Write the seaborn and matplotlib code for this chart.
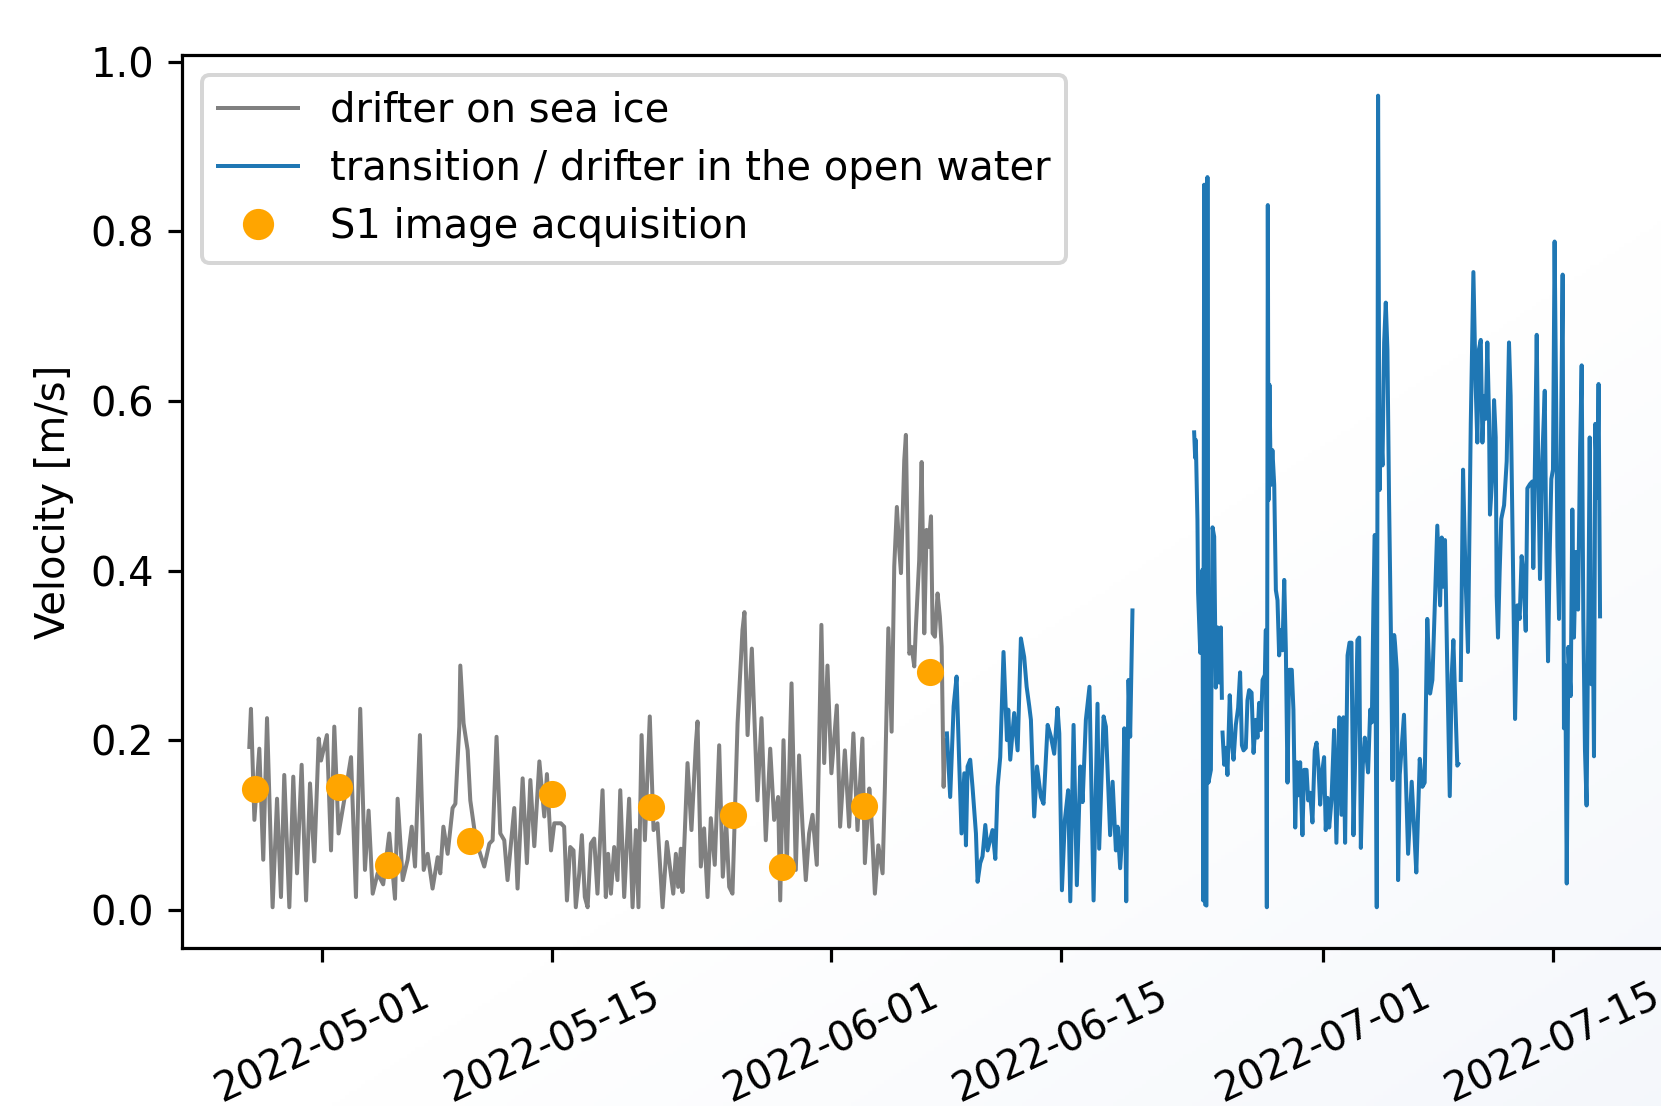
import numpy as np
import pandas as pd
import matplotlib
matplotlib.use('Agg')
import matplotlib.pyplot as plt
import matplotlib.dates as mdates
from matplotlib.lines import Line2D
import seaborn as sns

# days after 2022-05-01, velocity in m/s
start = pd.Timestamp('2022-05-01')

ice_points = [
    (-4.46, 0.192), (-4.36, 0.237), (-4.15, 0.106), (-3.85, 0.190), (-3.61, 0.059),
    (-3.38, 0.226), (-3.04, 0.003), (-2.77, 0.131), (-2.53, 0.015), (-2.33, 0.159),
    (-2.02, 0.003), (-1.78, 0.157), (-1.55, 0.043), (-1.27, 0.171), (-1.00, 0.011),
    (-0.76, 0.149), (-0.50, 0.057), (-0.23, 0.202), (-0.09, 0.176), (0.27, 0.206),
    (0.52, 0.070), (0.72, 0.216), (0.98, 0.090), (1.33, 0.130), (1.74, 0.180),
    (2.04, 0.015), (2.30, 0.237), (2.59, 0.047), (2.81, 0.117), (3.06, 0.019),
    (3.36, 0.043), (3.70, 0.030), (4.07, 0.090), (4.42, 0.013), (4.58, 0.131),
    (4.89, 0.035), (5.19, 0.059), (5.44, 0.098), (5.64, 0.051), (5.94, 0.206),
    (6.17, 0.047), (6.41, 0.066), (6.71, 0.025), (7.02, 0.062), (7.18, 0.043),
    (7.37, 0.098), (7.63, 0.066), (7.93, 0.120), (8.10, 0.125), (8.34, 0.216),
    (8.40, 0.288), (8.60, 0.220), (8.85, 0.188), (9.01, 0.129), (9.35, 0.082),
    (9.86, 0.051), (10.17, 0.078), (10.37, 0.082), (10.61, 0.204), (10.84, 0.090),
    (11.08, 0.082), (11.28, 0.035), (11.69, 0.120), (11.89, 0.025), (12.20, 0.155),
    (12.46, 0.055), (12.67, 0.153), (12.91, 0.075), (13.22, 0.175), (13.52, 0.110),
    (13.68, 0.160), (13.93, 0.070), (14.13, 0.102), (14.53, 0.102), (14.73, 0.098),
    (14.90, 0.011), (15.10, 0.074), (15.30, 0.070), (15.44, 0.003), (15.65, 0.043),
    (15.81, 0.088), (15.99, 0.015), (16.16, 0.003), (16.36, 0.078), (16.56, 0.084),
    (16.76, 0.019), (17.07, 0.141), (17.27, 0.015), (17.41, 0.066), (17.58, 0.019),
    (17.78, 0.074), (17.98, 0.035), (18.15, 0.141), (18.39, 0.015), (18.69, 0.131),
    (18.90, 0.003), (19.10, 0.094), (19.26, 0.003), (19.45, 0.206), (19.65, 0.082),
    (19.95, 0.228), (20.18, 0.094), (20.42, 0.102), (20.73, 0.003), (20.99, 0.080),
    (21.23, 0.043), (21.38, 0.019), (21.54, 0.066), (21.68, 0.027), (21.84, 0.072),
    (21.94, 0.021), (22.25, 0.173), (22.49, 0.094), (22.76, 0.196), (22.86, 0.222),
    (23.06, 0.051), (23.26, 0.096), (23.47, 0.015), (23.67, 0.108), (23.91, 0.053),
    (24.18, 0.194), (24.40, 0.039), (24.61, 0.102), (24.79, 0.027), (24.99, 0.019),
    (25.30, 0.220), (25.60, 0.330), (25.72, 0.351), (25.91, 0.206), (26.17, 0.308),
    (26.51, 0.129), (26.76, 0.226), (27.02, 0.082), (27.29, 0.190), (27.53, 0.106),
    (27.77, 0.133), (27.90, 0.011), (28.10, 0.200), (28.30, 0.051), (28.59, 0.267),
    (28.85, 0.047), (29.05, 0.182), (29.26, 0.098), (29.46, 0.035), (29.66, 0.090),
    (29.87, 0.112), (30.13, 0.053), (30.41, 0.336), (30.58, 0.173), (30.78, 0.288),
    (31.02, 0.161), (31.35, 0.241), (31.55, 0.098), (31.84, 0.188), (32.10, 0.098),
    (32.36, 0.208), (32.61, 0.094), (32.91, 0.202), (33.06, 0.055), (33.33, 0.143),
    (33.43, 0.120), (33.67, 0.019), (33.88, 0.076), (34.14, 0.043), (34.28, 0.145),
    (34.49, 0.332), (34.69, 0.210), (34.85, 0.405), (35.01, 0.475), (35.16, 0.424),
    (35.26, 0.397), (35.36, 0.464), (35.46, 0.530), (35.56, 0.560), (35.66, 0.436),
    (35.77, 0.302), (35.91, 0.310), (36.07, 0.287), (36.17, 0.334), (36.37, 0.412),
    (36.52, 0.528), (36.68, 0.326), (36.82, 0.448), (36.94, 0.428), (37.09, 0.464),
    (37.19, 0.326), (37.33, 0.322), (37.49, 0.373), (37.63, 0.346), (37.74, 0.310),
    (37.86, 0.145), (37.95, 0.200),
]

# nan = gap in the record
water_points = [
    (38.06, 0.208), (38.26, 0.133), (38.47, 0.240), (38.65, 0.275), (38.81, 0.173),
    (38.95, 0.090), (39.12, 0.161), (39.22, 0.076), (39.32, 0.169), (39.48, 0.177),
    (39.62, 0.145), (39.83, 0.090), (39.93, 0.033), (40.09, 0.055), (40.23, 0.063),
    (40.40, 0.100), (40.54, 0.070), (40.84, 0.094), (41.01, 0.060), (41.15, 0.145),
    (41.31, 0.180), (41.51, 0.304), (41.72, 0.200), (41.80, 0.236), (41.92, 0.177),
    (42.16, 0.232), (42.37, 0.188), (42.57, 0.320), (42.77, 0.298), (42.92, 0.263),
    (43.08, 0.240), (43.18, 0.224), (43.38, 0.110), (43.55, 0.169), (43.79, 0.133),
    (43.95, 0.125), (44.20, 0.218), (44.40, 0.204), (44.60, 0.184), (44.80, 0.238),
    (44.91, 0.208), (45.07, 0.023), (45.25, 0.106), (45.45, 0.141), (45.58, 0.010),
    (45.78, 0.218), (45.98, 0.029), (46.19, 0.169), (46.33, 0.127), (46.53, 0.224),
    (46.75, 0.263), (47.00, 0.011), (47.24, 0.243), (47.34, 0.072), (47.61, 0.228),
    (47.75, 0.216), (48.01, 0.088), (48.16, 0.151), (48.36, 0.070), (48.46, 0.098),
    (48.62, 0.049), (48.77, 0.096), (48.87, 0.214), (48.99, 0.010), (49.13, 0.271),
    (49.23, 0.204), (49.37, 0.353),
    (51.00, np.nan),
    (53.13, 0.563), (53.19, 0.533), (53.23, 0.554), (53.33, 0.460), (53.37, 0.374),
    (53.50, 0.303), (53.58, 0.377), (53.64, 0.401), (53.68, 0.011), (53.74, 0.855),
    (53.80, 0.006), (53.88, 0.005), (53.94, 0.864), (54.00, 0.150), (54.15, 0.165),
    (54.25, 0.451), (54.35, 0.440), (54.45, 0.262), (54.55, 0.333), (54.65, 0.268),
    (54.76, 0.333), (54.82, 0.250),
    (54.84, np.nan),
    (54.86, 0.209), (54.96, 0.171), (55.06, 0.191), (55.16, 0.159), (55.30, 0.253),
    (55.41, 0.200), (55.53, 0.177), (55.67, 0.218), (55.81, 0.238), (55.93, 0.280),
    (56.04, 0.194), (56.14, 0.188), (56.28, 0.191), (56.38, 0.247), (56.48, 0.259),
    (56.63, 0.256), (56.75, 0.185), (56.89, 0.224), (56.99, 0.203), (57.09, 0.244),
    (57.19, 0.212), (57.30, 0.271), (57.44, 0.277), (57.50, 0.330), (57.56, 0.003),
    (57.62, 0.831), (57.66, 0.483), (57.72, 0.619), (57.80, 0.501), (57.90, 0.542),
    (58.01, 0.501), (58.11, 0.377), (58.21, 0.365), (58.31, 0.300), (58.41, 0.330),
    (58.51, 0.306), (58.62, 0.389), (58.72, 0.306), (58.82, 0.150), (58.92, 0.283),
    (59.08, 0.283), (59.18, 0.236), (59.29, 0.097), (59.39, 0.174), (59.49, 0.135),
    (59.59, 0.174), (59.73, 0.088), (59.83, 0.165), (59.98, 0.165), (60.08, 0.129),
    (60.20, 0.138), (60.34, 0.103), (60.48, 0.188), (60.59, 0.197), (60.71, 0.168),
    (60.81, 0.124), (60.95, 0.165), (61.05, 0.180), (61.15, 0.094), (61.26, 0.132),
    (61.36, 0.097), (61.50, 0.129), (61.66, 0.212), (61.80, 0.079), (61.97, 0.227),
    (62.11, 0.112), (62.23, 0.227), (62.33, 0.079), (62.48, 0.300), (62.60, 0.315),
    (62.72, 0.315), (62.84, 0.088), (62.98, 0.212), (63.08, 0.318), (63.19, 0.321),
    (63.29, 0.073), (63.41, 0.171), (63.53, 0.203), (63.63, 0.182), (63.73, 0.162),
    (63.86, 0.236), (63.96, 0.221), (64.06, 0.365), (64.14, 0.442), (64.26, 0.003),
    (64.34, 0.960), (64.43, 0.495), (64.51, 0.575), (64.61, 0.524), (64.71, 0.669),
    (64.81, 0.716), (64.91, 0.660), (65.01, 0.483), (65.12, 0.330), (65.22, 0.153),
    (65.32, 0.324), (65.38, 0.312), (65.48, 0.283), (65.56, 0.035), (65.66, 0.159),
    (65.92, 0.230), (66.17, 0.066), (66.39, 0.151), (66.53, 0.099), (66.67, 0.044),
    (66.88, 0.178), (67.04, 0.145), (67.18, 0.150), (67.34, 0.343), (67.51, 0.255),
    (67.65, 0.271), (67.79, 0.354), (67.95, 0.453), (68.12, 0.359), (68.22, 0.439),
    (68.32, 0.381), (68.42, 0.436), (68.56, 0.282), (68.71, 0.134), (68.83, 0.277),
    (68.93, 0.318), (69.03, 0.255), (69.17, 0.170), (69.23, 0.172),
    (69.30, np.nan),
    (69.38, 0.271), (69.52, 0.519), (69.68, 0.387), (69.82, 0.304), (69.99, 0.573),
    (70.15, 0.752), (70.29, 0.617), (70.39, 0.551), (70.49, 0.661), (70.60, 0.672),
    (70.70, 0.551), (70.80, 0.606), (70.90, 0.579), (71.00, 0.669), (71.10, 0.584),
    (71.16, 0.466), (71.31, 0.513), (71.41, 0.601), (71.51, 0.557), (71.57, 0.370),
    (71.65, 0.321), (71.75, 0.398), (71.85, 0.461), (72.02, 0.477), (72.18, 0.529),
    (72.32, 0.669), (72.42, 0.606), (72.57, 0.398), (72.69, 0.225), (72.83, 0.359),
    (72.97, 0.343), (73.09, 0.417), (73.19, 0.398), (73.34, 0.329), (73.44, 0.497),
    (73.60, 0.502), (73.74, 0.505), (73.80, 0.403), (73.91, 0.538), (74.01, 0.678),
    (74.11, 0.513), (74.21, 0.390), (74.35, 0.532), (74.50, 0.612), (74.60, 0.409),
    (74.70, 0.293), (74.80, 0.420), (74.90, 0.508), (75.00, 0.519), (75.10, 0.788),
    (75.19, 0.606), (75.27, 0.428), (75.37, 0.343), (75.47, 0.519), (75.59, 0.749),
    (75.67, 0.214), (75.75, 0.288), (75.84, 0.031), (75.94, 0.310), (76.08, 0.252),
    (76.18, 0.472), (76.28, 0.321), (76.40, 0.422), (76.53, 0.354), (76.65, 0.540),
    (76.75, 0.642), (76.85, 0.343), (76.95, 0.189), (77.05, 0.123), (77.16, 0.354),
    (77.24, 0.557), (77.34, 0.266), (77.42, 0.354), (77.50, 0.181), (77.58, 0.573),
    (77.70, 0.486), (77.78, 0.620), (77.87, 0.346),
]

s1_days = [-4.1, 1.0, 4.0, 9.0, 14.0, 20.0, 25.0, 28.0, 33.0, 37.0]
s1_velocity = [0.142, 0.145, 0.053, 0.081, 0.136, 0.121, 0.112, 0.050, 0.122, 0.280]


def to_frame(points):
    df = pd.DataFrame(points, columns=['day', 'velocity'])
    df['seg'] = df['velocity'].isna().cumsum()
    df = df.dropna()
    df['time'] = start + pd.to_timedelta(df['day'], unit='D')
    return df


ice = to_frame(ice_points)
water = to_frame(water_points)
s1 = pd.DataFrame({'time': start + pd.to_timedelta(s1_days, unit='D'),
                   'velocity': s1_velocity})

fig = plt.figure(figsize=(1661 / 288, 1106 / 288), dpi=288)

# faint bluish tint towards the lower right corner of the picture
bg = fig.add_axes([0, 0, 1, 1], zorder=-10)
u, v = np.meshgrid(np.linspace(0, 1, 400), np.linspace(1, 0, 300))
g = np.clip((u - v - 0.2) / 0.9, 0, 1)[..., None]
tint = np.array([0.955, 0.966, 0.985])
bg.imshow(1 - g * (1 - tint), aspect='auto', extent=(0, 1, 0, 1))
bg.axis('off')

ax = fig.add_axes([0.1094, 0.1429, 0.8946, 0.8074])
ax.set_facecolor('none')

sns.lineplot(data=ice, x='time', y='velocity', units='seg', estimator=None,
             color='gray', lw=1.0, legend=False, ax=ax)
sns.lineplot(data=water, x='time', y='velocity', units='seg', estimator=None,
             color='tab:blue', lw=1.0, legend=False, ax=ax)
sns.scatterplot(data=s1, x='time', y='velocity', color='orange', s=46,
                linewidth=0, zorder=3, legend=False, ax=ax)

ax.set_xlim(start - pd.Timedelta(days=8.58), start + pd.Timedelta(days=81.99))
ax.set_ylim(-0.045, 1.008)
ax.xaxis.set_major_locator(mdates.DayLocator(bymonthday=[1, 15]))
ax.xaxis.set_major_formatter(mdates.DateFormatter('%Y-%m-%d'))
plt.setp(ax.get_xticklabels(), rotation=25)
ax.set_xlabel('')
ax.set_ylabel('Velocity [m/s]')

handles = [Line2D([], [], color='gray', lw=1.0),
           Line2D([], [], color='tab:blue', lw=1.0),
           Line2D([], [], color='orange', marker='o', ls='none', ms=6.8)]
labels = ['drifter on sea ice', 'transition / drifter in the open water',
          'S1 image acquisition']
ax.legend(handles, labels, loc='upper left', labelspacing=0.45)

fig.savefig('out.png', dpi=288)
